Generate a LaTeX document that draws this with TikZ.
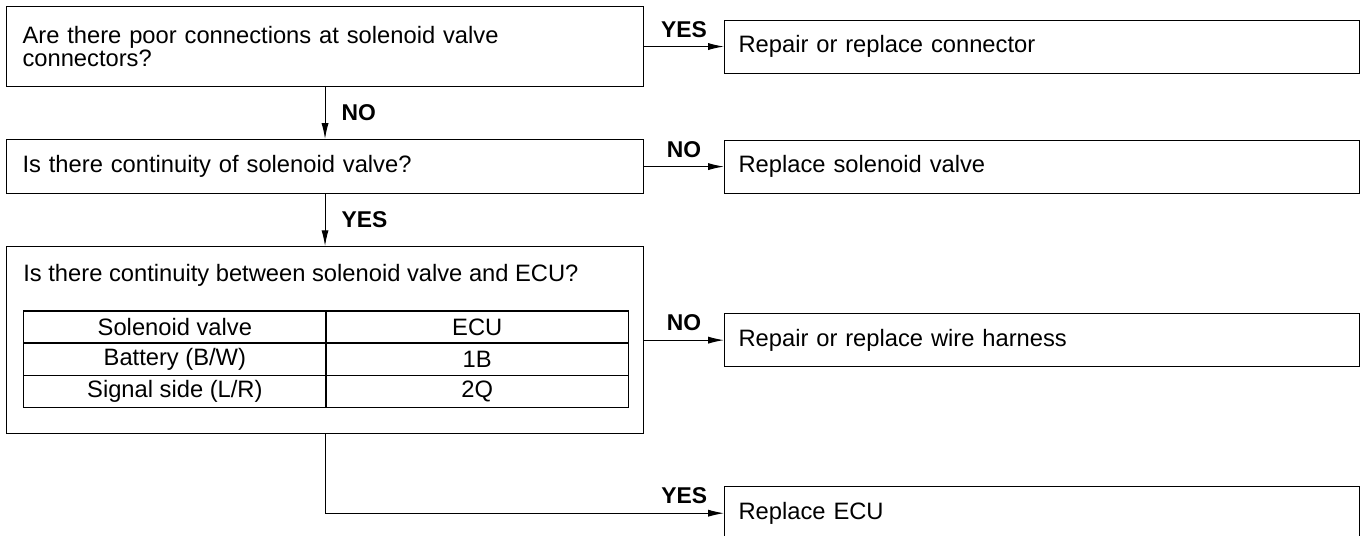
\documentclass[tikz,border=0pt]{standalone}
\usepackage{fontspec}
\setmainfont{Liberation Sans}
\usepackage{tikz}
\usetikzlibrary{positioning, arrows.meta, matrix}
\tikzset{
  question/.style={rectangle, draw=black, semithick, text width=12.1cm, inner xsep=0.32cm, align=left},
  action/.style={rectangle, draw=black, semithick, text width=12.14cm, inner xsep=0.28cm, minimum height=1.06cm, align=left},
  cell/.style={rectangle, draw=black, semithick, minimum width=6.04cm, minimum height=0.64cm, inner sep=0pt, anchor=center},
  answer/.style={font=\fontsize{13}{13}\selectfont\bfseries, inner sep=2pt},
  arrow/.style={semithick,-{Latex[length=9pt,width=4pt]}}
}
\begin{document}
\begin{tikzpicture}[node distance=1.04cm, every node/.style={font=\fontsize{13.5}{13}\selectfont}]
        \useasboundingbox (0,0) rectangle (27.22,-10.70);
        \node (conn) [question, minimum height=1.60cm, anchor=north west] at (0.12,-0.12) {Are there poor connections at solenoid valve\\connectors?};
        \node (cont) [question, minimum height=1.08cm, below=of conn] {Is there continuity of solenoid valve?};
        \node (harn) [question, minimum height=3.74cm, below=of cont] {};
        \node (harntxt) [anchor=west, inner sep=0pt] at ([xshift=0.34cm, yshift=-0.58cm]harn.north west) {Is there continuity between solenoid valve and ECU?};
        \matrix (tbl) [matrix of nodes, nodes={cell}, column sep=-\pgflinewidth, row sep=-\pgflinewidth, inner sep=0pt, anchor=north west] at ([xshift=0.34cm, yshift=-1.28cm]harn.north west) {
          Solenoid valve & ECU \\
          Battery (B/W) & 1B \\
          Signal side (L/R) & 2Q \\
        };

        \node (fixconn) [action, right=1.6cm of conn] {Repair or replace connector};
        \node (valve) [action, right=1.6cm of cont] {Replace solenoid valve};
        \node (wire) [action, right=1.6cm of harn] {Repair or replace wire harness};
        \node (ecu) [action, below=2.38cm of wire] {Replace ECU};

        \draw [arrow] (conn.east) -- node[above=0.1cm, answer] {YES} (fixconn.west);
        \draw [arrow] (conn.south) -- node[right=0.25cm, answer] {NO} (cont.north);
        \draw [arrow] (cont.east) -- node[above=0.1cm, answer] {NO} (valve.west);
        \draw [arrow] (cont.south) -- node[right=0.25cm, answer] {YES} (harn.north);
        \draw [arrow] (harn.east) -- node[above=0.1cm, answer] {NO} (wire.west);
        \draw [arrow] (harn.south) |- node[pos=0.95, above=0.1cm, answer] {YES} (ecu.west);
    \end{tikzpicture}
\end{document}
